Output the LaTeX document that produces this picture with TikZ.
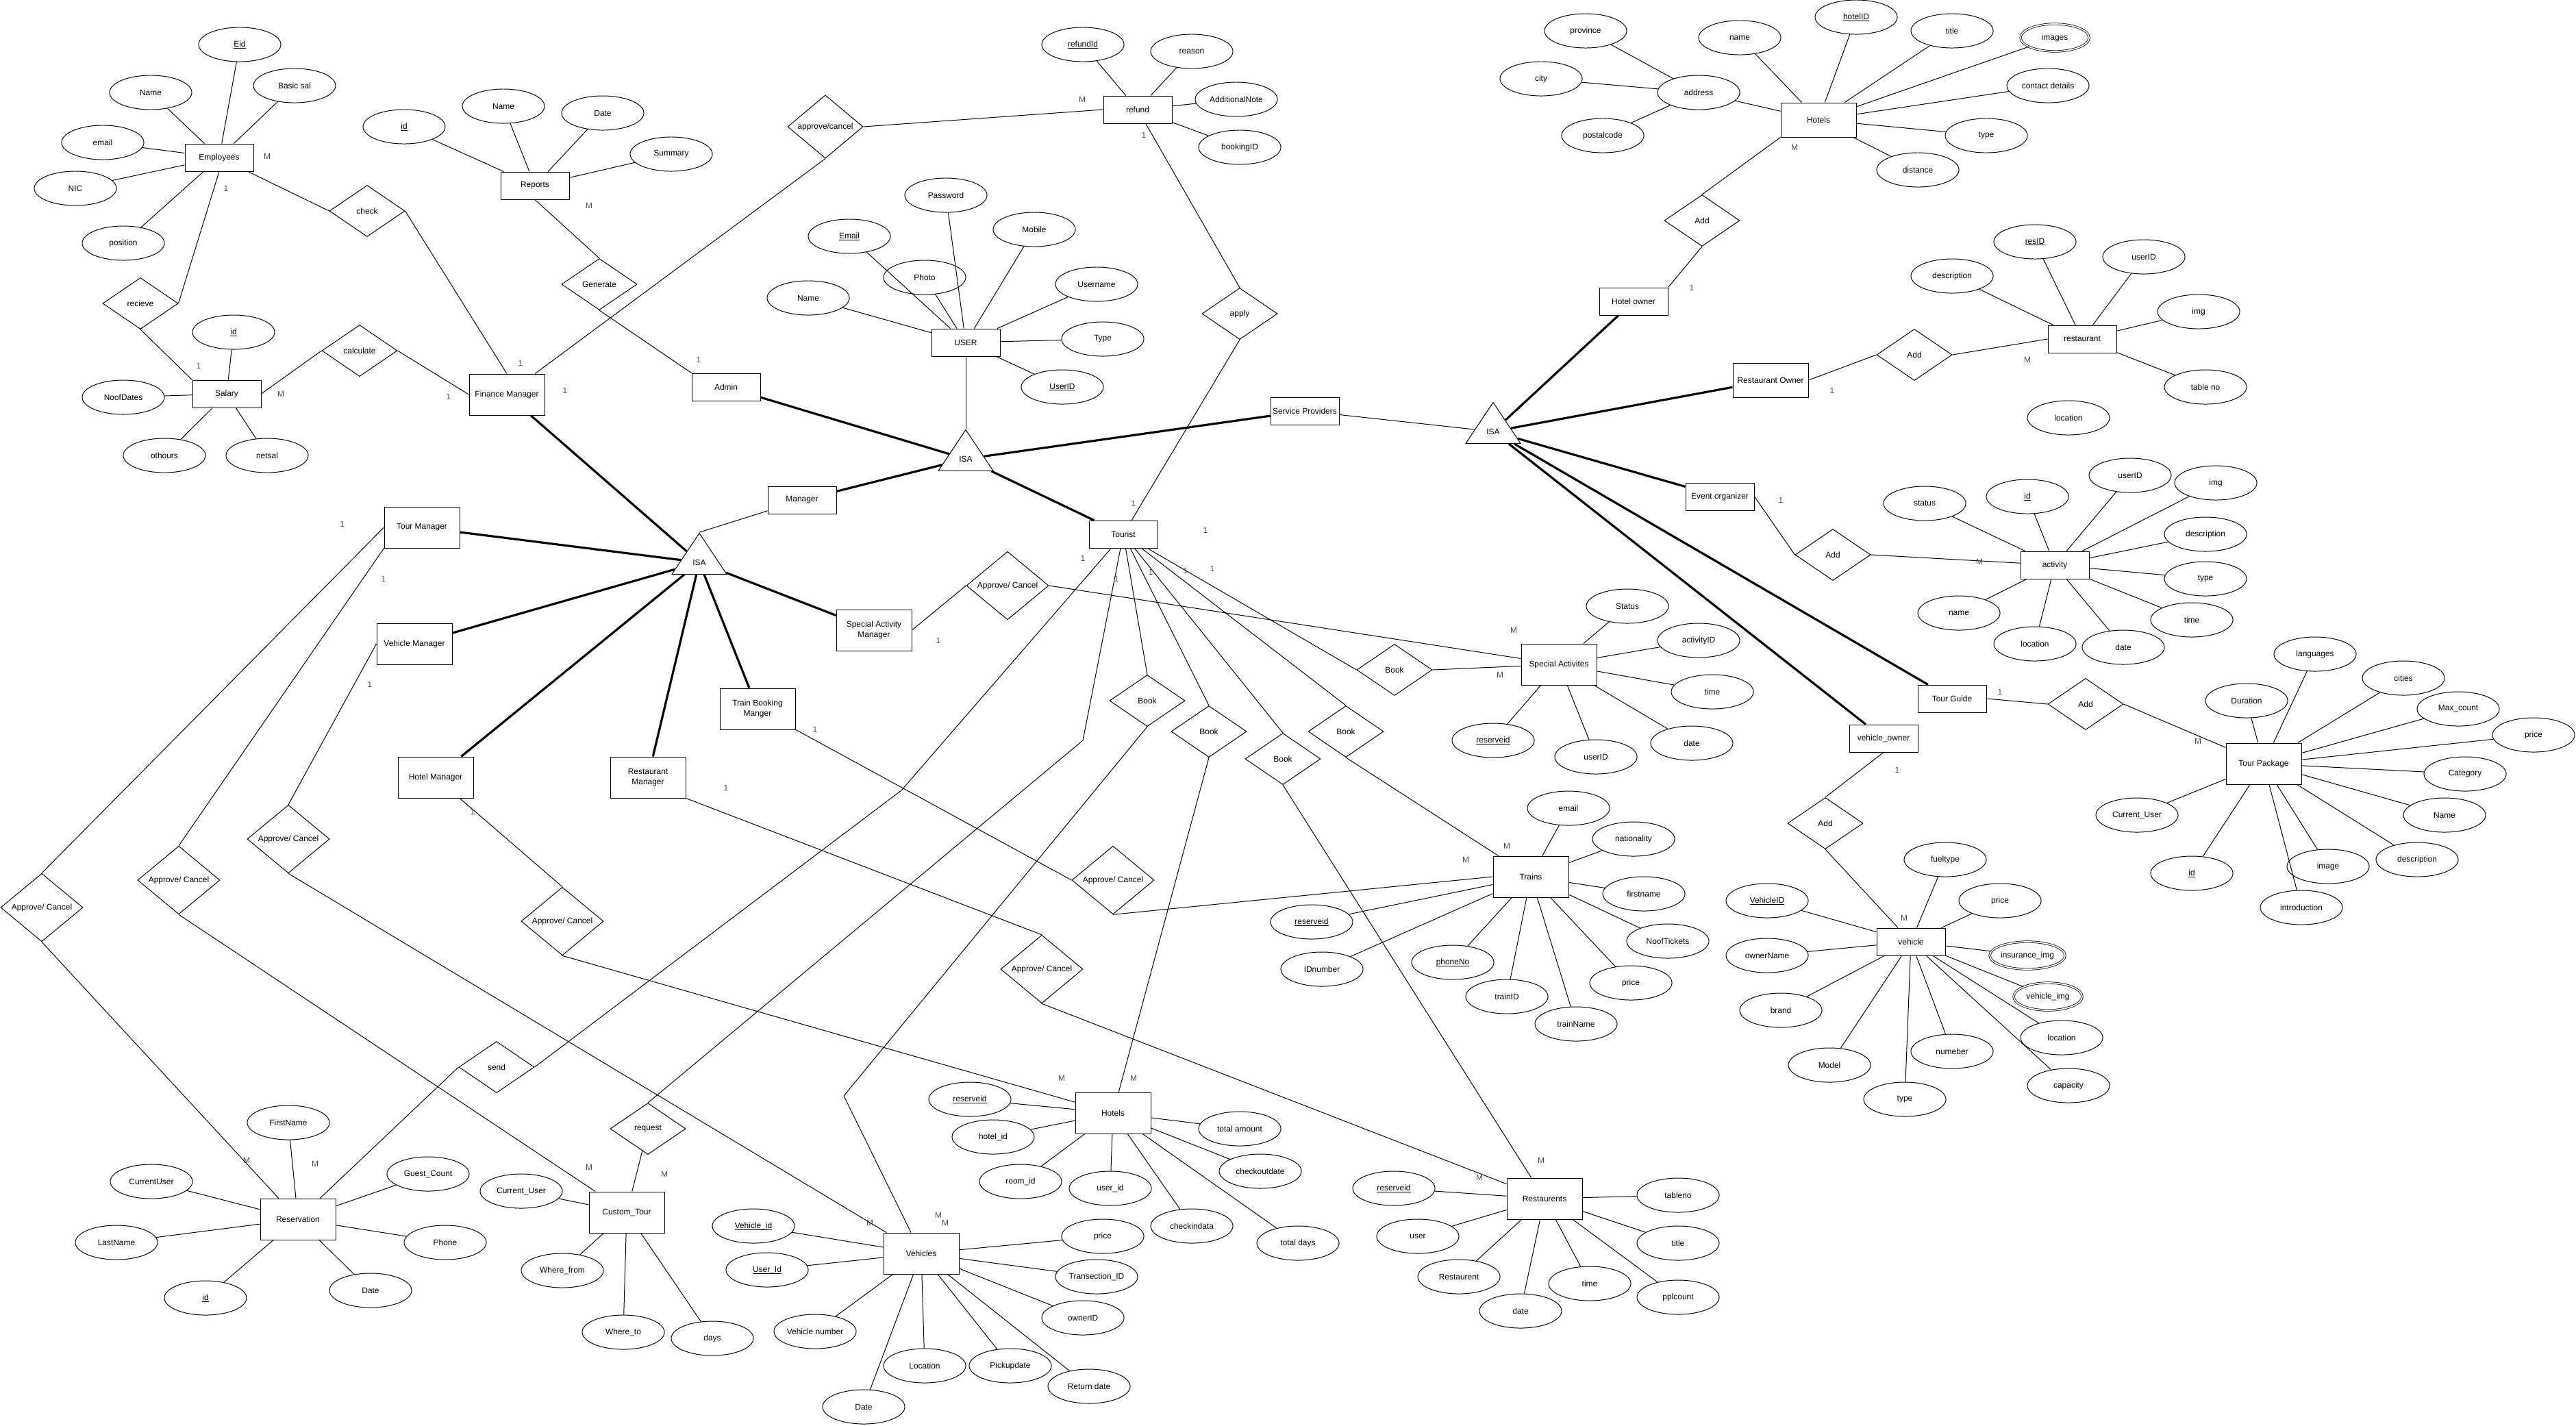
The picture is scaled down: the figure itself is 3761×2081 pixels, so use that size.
\documentclass[tikz,border=0pt]{standalone}
\usepackage{fontspec}
\setmainfont{Liberation Sans}
\usetikzlibrary{shapes.geometric}
\newcommand{\erfont}{\fontsize{3.4}{4.2}\selectfont}
\newcommand{\keyul}[1]{\setbox0=\hbox{#1}\rlap{\rule[-0.6pt]{\wd0}{0.2pt}}\box0}

\begin{document}
\begin{tikzpicture}[
    x=0.01cm, y=-0.01cm,
    entity/.style={rectangle, draw, line width=0.26pt, minimum width=1cm, minimum height=0.4cm,
                   inner sep=0pt, font=\erfont},
    bigentity/.style={entity, minimum width=1.1cm, minimum height=0.6cm, align=center},
    attr/.style={ellipse, draw, line width=0.28pt, minimum width=1.2cm, minimum height=0.5cm,
                 inner sep=0pt, font=\erfont},
    multiattr/.style={attr, double, line width=0.22pt, double distance=0.5pt, minimum width=1cm, minimum height=0.4cm},
    rel/.style={diamond, draw, line width=0.28pt, minimum width=1.1cm, minimum height=0.75cm,
                inner sep=0pt, font=\erfont},
    bigrel/.style={rel, minimum width=1.2cm, minimum height=0.9cm},
    isa/.style={isosceles triangle, shape border rotate=90, isosceles triangle stretches, draw,
                line width=0.28pt, minimum width=0.8cm, minimum height=0.6cm, inner sep=0pt, font=\erfont},
    link/.style={line width=0.28pt},
    strong/.style={line width=0.9pt},
    card/.style={font=\erfont, text=black!70}
]
    \useasboundingbox (0,0) rectangle (3761,2081);

    % Entities
    \node[entity] (employees) at (320,230) {Employees};
    \node[entity] (salary) at (331,575) {Salary};
    \node[entity] (reports) at (781,271) {Reports};
    \node[bigentity] (finmgr) at (740,576) {Finance Manager};
    \node[entity] (admin) at (1060,565) {Admin};
    \node[entity] (user) at (1410,500) {USER};
    \node[entity] (refund) at (1661,160) {refund};
    \node[entity] (provider) at (1905,600) {Service Providers};
    \node[entity] (manager) at (1171,730) {Manager};
    \node[entity] (tourist) at (1640,780) {Tourist};
    \node[bigentity] (tourmgr) at (616,770) {Tour Manager};
    \node[bigentity] (vehmgr) at (605,940) {Vehicle Manager};
    \node[bigentity] (hotelmgr) at (636,1135) {Hotel Manager};
    \node[bigentity] (restmgr) at (946,1135) {Restaurant\\Manager};
    \node[bigentity] (activmgr) at (1276,920) {Special Activity\\Manager};
    \node[bigentity] (trainmgr) at (1106,1035) {Train Booking\\Manger};
    \node[entity] (hotelowner) at (2385,440) {Hotel owner};
    \node[entity, minimum width=1.1cm, minimum height=0.5cm] (hotels) at (2655,175) {Hotels};
    \node[entity, minimum width=1.1cm, minimum height=0.5cm] (restowner) at (2585,555) {Restaurant Owner};
    \node[entity] (restaurant) at (3040,495) {restaurant};
    \node[entity] (organizer) at (2511,725) {Event organizer};
    \node[entity] (activity) at (3000,825) {activity};
    \node[bigentity] (specact) at (2276,970) {Special Activites};
    \node[entity] (guide) at (2850,1020) {Tour Guide};
    \node[bigentity] (package) at (3305,1115) {Tour Package};
    \node[entity] (vehowner) at (2750,1078) {vehicle\_owner};
    \node[entity] (vehicle) at (2790,1375) {vehicle};
    \node[bigentity] (trains) at (2235,1280) {Trains};
    \node[bigentity] (reservation) at (435,1780) {Reservation};
    \node[bigentity] (customtour) at (915,1770) {Custom\_Tour};
    \node[bigentity] (hotelbook) at (1625,1625) {Hotels};
    \node[bigentity] (vehicles) at (1345,1830) {Vehicles};
    \node[bigentity] (restbook) at (2255,1750) {Restaurents};

    % ISA
    \node[isa] (isauser) at (1410,670) {ISA};
    \node[isa] (isastaff) at (1021,821) {ISA};
    \node[isa] (isaprov) at (2180,630) {ISA};

    % Relationships
    \node[rel] (check) at (536,308) {check};
    \node[rel] (receive) at (205,443) {recieve};
    \node[rel] (calculate) at (525,512) {calculate};
    \node[rel] (generate) at (875,415) {Generate};
    \node[rel] (approverefund) at (1205,185) {approve/cancel};
    \node[rel] (apply) at (1810,458) {apply};
    \node[rel] (addhotel) at (2485,322) {Add};
    \node[rel] (addrest) at (2795,518) {Add};
    \node[rel] (addactivity) at (2676,810) {Add};
    \node[rel] (addpackage) at (3045,1028) {Add};
    \node[rel] (addvehicle) at (2665,1202) {Add};
    \node[bigrel] (apres) at (61,1325) {Approve/ Cancel};
    \node[bigrel] (apcustom) at (261,1285) {Approve/ Cancel};
    \node[bigrel] (apveh) at (421,1225) {Approve/ Cancel};
    \node[bigrel] (aphotel) at (821,1345) {Approve/ Cancel};
    \node[bigrel] (apactivity) at (1471,855) {Approve/ Cancel};
    \node[bigrel] (aptrain) at (1625,1285) {Approve/ Cancel};
    \node[bigrel] (aprest) at (1521,1415) {Approve/ Cancel};
    \node[rel] (bookveh) at (1675,1023) {Book};
    \node[rel] (bookhotel) at (1765,1068) {Book};
    \node[rel] (bookrest) at (1873,1108) {Book};
    \node[rel] (bookactivity) at (2036,978) {Book};
    \node[rel] (booktrain) at (1965,1068) {Book};
    \node[rel] (send) at (725,1558) {send};
    \node[rel] (request) at (946,1648) {request};

    % Attributes
    \node[attr] (eid) at (350,65) {\keyul{Eid}};
    \node[attr] (ename) at (220,135) {Name};
    \node[attr] (basicsal) at (430,125) {Basic sal};
    \node[attr] (eemail) at (150,208) {email};
    \node[attr] (enic) at (110,275) {NIC};
    \node[attr] (eposition) at (180,355) {position};
    \node[attr] (salid) at (341,485) {\keyul{id}};
    \node[attr] (noofdates) at (180,580) {NoofDates};
    \node[attr] (othours) at (240,665) {othours};
    \node[attr] (netsal) at (390,665) {netsal};
    \node[attr] (repid) at (590,185) {\keyul{id}};
    \node[attr] (repname) at (735,155) {Name};
    \node[attr] (repdate) at (880,165) {Date};
    \node[attr] (summary) at (980,225) {Summary};
    \node[attr] (refundid) at (1581,65) {\keyul{refundId}};
    \node[attr] (reason) at (1740,75) {reason};
    \node[attr] (addnote) at (1805,145) {AdditionalNote};
    \node[attr] (bookingid) at (1810,215) {bookingID};
    \node[attr] (password) at (1381,285) {Password};
    \node[attr] (uemail) at (1240,345) {\keyul{Email}};
    \node[attr] (mobile) at (1510,335) {Mobile};
    \node[attr] (photo) at (1350,405) {Photo};
    \node[attr] (uname) at (1180,435) {Name};
    \node[attr] (username) at (1601,415) {Username};
    \node[attr] (utype) at (1610,495) {Type};
    \node[attr] (userid) at (1551,565) {\keyul{UserID}};
    \node[attr] (address) at (2480,135) {address};
    \node[attr] (province) at (2315,45) {province};
    \node[attr] (city) at (2250,115) {city};
    \node[attr] (postalcode) at (2340,198) {postalcode};
    \node[attr] (hname) at (2540,55) {name};
    \node[attr] (hotelid) at (2710,25) {\keyul{hotelID}};
    \node[attr] (htitle) at (2850,45) {title};
    \node[multiattr] (himages) at (3000,55) {images};
    \node[attr] (hcontact) at (2990,125) {contact details};
    \node[attr] (htype) at (2900,198) {type};
    \node[attr] (hdistance) at (2800,248) {distance};
    \node[attr] (rdesc) at (2850,403) {description};
    \node[attr] (resid) at (2971,353) {\keyul{resID}};
    \node[attr] (ruserid) at (3130,375) {userID};
    \node[attr] (rimg) at (3210,455) {img};
    \node[attr] (rtable) at (3220,565) {table no};
    \node[attr] (rlocation) at (3020,610) {location};
    \node[attr] (astatus) at (2810,735) {status};
    \node[attr] (aid) at (2960,725) {\keyul{id}};
    \node[attr] (auserid) at (3110,694) {userID};
    \node[attr] (aimg) at (3235,705) {img};
    \node[attr] (adesc) at (3220,780) {description};
    \node[attr] (atype) at (3220,845) {type};
    \node[attr] (atime) at (3200,905) {time};
    \node[attr] (adate) at (3100,945) {date};
    \node[attr] (aloc) at (2971,940) {location};
    \node[attr] (aname) at (2860,895) {name};
    \node[attr] (sstatus) at (2376,885) {Status};
    \node[attr] (sactid) at (2480,935) {activityID};
    \node[attr] (stime) at (2500,1010) {time};
    \node[attr] (sdate) at (2470,1085) {date};
    \node[attr] (suserid) at (2330,1105) {userID};
    \node[attr] (sreserve) at (2180,1081) {\keyul{reserveid}};
    \node[attr] (languages) at (3380,955) {languages};
    \node[attr] (cities) at (3509,990) {cities};
    \node[attr] (duration) at (3280,1023) {Duration};
    \node[attr] (maxcount) at (3589,1035) {Max\_count};
    \node[attr] (pprice) at (3699,1073) {price};
    \node[attr] (category) at (3599,1130) {Category};
    \node[attr] (pname) at (3569,1190) {Name};
    \node[attr] (pdesc) at (3529,1255) {description};
    \node[attr] (pimage) at (3399,1265) {image};
    \node[attr] (intro) at (3360,1325) {introduction};
    \node[attr] (pid) at (3200,1275) {\keyul{id}};
    \node[attr] (pcurrent) at (3120,1190) {Current\_User};
    \node[attr] (temail) at (2290,1180) {email};
    \node[attr] (nationality) at (2385,1225) {nationality};
    \node[attr] (tfirst) at (2400,1305) {firstname};
    \node[attr] (tickets) at (2435,1374) {NoofTickets};
    \node[attr] (tprice) at (2381,1435) {price};
    \node[attr] (trainname) at (2301,1495) {trainName};
    \node[attr] (trainid) at (2200,1455) {trainID};
    \node[attr] (phoneno) at (2121,1405) {\keyul{phoneNo}};
    \node[attr] (idnumber) at (1930,1415) {IDnumber};
    \node[attr] (treserve) at (1915,1346) {\keyul{reserveid}};
    \node[attr] (fueltype) at (2840,1255) {fueltype};
    \node[attr] (vprice) at (2920,1315) {price};
    \node[attr] (vehicleid) at (2580,1315) {\keyul{VehicleID}};
    \node[attr] (ownername) at (2580,1395) {ownerName};
    \node[attr] (brand) at (2600,1475) {brand};
    \node[attr] (model) at (2671,1555) {Model};
    \node[attr] (vtype) at (2781,1605) {type};
    \node[attr] (numeber) at (2850,1535) {numeber};
    \node[attr] (capacity) at (3020,1585) {capacity};
    \node[attr] (vlocation) at (3010,1515) {location};
    \node[multiattr] (vehimg) at (2990,1455) {vehicle\_img};
    \node[multiattr] (insimg) at (2960,1395) {insurance\_img};
    \node[attr] (rfirst) at (421,1639) {FirstName};
    \node[attr] (rcurrent) at (221,1725) {CurrentUser};
    \node[attr] (guests) at (625,1714) {Guest\_Count};
    \node[attr] (lastname) at (170,1814) {LastName};
    \node[attr] (phone) at (650,1814) {Phone};
    \node[attr] (resvid) at (300,1895) {\keyul{id}};
    \node[attr] (resvdate) at (541,1884) {Date};
    \node[attr] (ccurrent) at (761,1739) {Current\_User};
    \node[attr] (wherefrom) at (821,1855) {Where\_from};
    \node[attr] (whereto) at (910,1945) {Where\_to};
    \node[attr] (days) at (1040,1954) {days};
    \node[attr] (hreserve) at (1416,1605) {\keyul{reserveid}};
    \node[attr] (hbookid) at (1450,1660) {hotel\_id};
    \node[attr] (roomid) at (1490,1725) {room\_id};
    \node[attr] (huserid) at (1621,1735) {user\_id};
    \node[attr] (checkin) at (1740,1790) {checkindata};
    \node[attr] (totalamount) at (1810,1648) {total amount};
    \node[attr] (checkout) at (1840,1710) {checkoutdate};
    \node[attr] (totaldays) at (1895,1815) {total days};
    \node[attr] (vid) at (1100,1790) {\keyul{Vehicle\_id}};
    \node[attr] (vuserid) at (1120,1854) {\keyul{User\_Id}};
    \node[attr] (vnumber) at (1190,1944) {Vehicle number};
    \node[attr] (vdate) at (1261,2054) {Date};
    \node[attr] (vloc) at (1350,1994) {Location};
    \node[attr] (pickup) at (1475,1994) {Pickupdate};
    \node[attr] (returndate) at (1590,2024) {Return date};
    \node[attr] (ownerid) at (1581,1924) {ownerID};
    \node[attr] (transid) at (1601,1864) {Transection\_ID};
    \node[attr] (vbprice) at (1610,1805) {price};
    \node[attr] (rsreserve) at (2035,1735) {\keyul{reserveid}};
    \node[attr] (rsuser) at (2070,1805) {user};
    \node[attr] (restaurent) at (2130,1864) {Restaurent};
    \node[attr] (rsdate) at (2220,1914) {date};
    \node[attr] (rstime) at (2321,1874) {time};
    \node[attr] (pplcount) at (2450,1894) {pplcount};
    \node[attr] (rstitle) at (2450,1815) {title};
    \node[attr] (tableno) at (2450,1745) {tableno};

    % Bends
    \coordinate (sendbend) at (1316,1154);
    \coordinate (requestbend) at (1581,1081);
    \coordinate (vehbend) at (1232,1600);

    % Attribute links
    \draw[link] (eid) -- (employees) (ename) -- (employees) (basicsal) -- (employees)
                (eemail) -- (employees) (enic) -- (employees) (eposition) -- (employees);
    \draw[link] (salid) -- (salary) (noofdates) -- (salary) (othours) -- (salary) (netsal) -- (salary);
    \draw[link] (repid) -- (reports) (repname) -- (reports) (repdate) -- (reports) (summary) -- (reports);
    \draw[link] (refundid) -- (refund) (reason) -- (refund) (addnote) -- (refund) (bookingid) -- (refund);
    \draw[link] (password) -- (user) (uemail) -- (user) (mobile) -- (user) (photo) -- (user)
                (uname) -- (user) (username) -- (user) (utype) -- (user) (userid) -- (user);
    \draw[link] (province) -- (address) (city) -- (address) (postalcode) -- (address);
    \draw[link] (address) -- (hotels) (hname) -- (hotels) (hotelid) -- (hotels) (htitle) -- (hotels)
                (himages) -- (hotels) (hcontact) -- (hotels) (htype) -- (hotels) (hdistance) -- (hotels);
    \draw[link] (rdesc) -- (restaurant) (resid) -- (restaurant) (ruserid) -- (restaurant)
                (rimg) -- (restaurant) (rtable) -- (restaurant);
    \draw[link] (astatus) -- (activity) (aid) -- (activity) (auserid) -- (activity) (aimg) -- (activity)
                (adesc) -- (activity) (atype) -- (activity) (atime) -- (activity) (adate) -- (activity)
                (aloc) -- (activity) (aname) -- (activity);
    \draw[link] (sstatus) -- (specact) (sactid) -- (specact) (stime) -- (specact) (sdate) -- (specact)
                (suserid) -- (specact) (sreserve) -- (specact);
    \draw[link] (languages) -- (package) (cities) -- (package) (duration) -- (package)
                (maxcount) -- (package) (pprice) -- (package) (category) -- (package) (pname) -- (package)
                (pdesc) -- (package) (pimage) -- (package) (intro) -- (package) (pid) -- (package)
                (pcurrent) -- (package);
    \draw[link] (temail) -- (trains) (nationality) -- (trains) (tfirst) -- (trains) (tickets) -- (trains)
                (tprice) -- (trains) (trainname) -- (trains) (trainid) -- (trains) (phoneno) -- (trains)
                (idnumber) -- (trains) (treserve) -- (trains);
    \draw[link] (fueltype) -- (vehicle) (vprice) -- (vehicle) (vehicleid) -- (vehicle)
                (ownername) -- (vehicle) (brand) -- (vehicle) (model) -- (vehicle) (vtype) -- (vehicle)
                (numeber) -- (vehicle) (capacity) -- (vehicle) (vlocation) -- (vehicle)
                (vehimg) -- (vehicle) (insimg) -- (vehicle);
    \draw[link] (rfirst) -- (reservation) (rcurrent) -- (reservation) (guests) -- (reservation)
                (lastname) -- (reservation) (phone) -- (reservation) (resvid) -- (reservation)
                (resvdate) -- (reservation);
    \draw[link] (ccurrent) -- (customtour) (wherefrom) -- (customtour) (whereto) -- (customtour)
                (days) -- (customtour);
    \draw[link] (hreserve) -- (hotelbook) (hbookid) -- (hotelbook) (roomid) -- (hotelbook)
                (huserid) -- (hotelbook) (checkin) -- (hotelbook) (totalamount) -- (hotelbook)
                (checkout) -- (hotelbook) (totaldays) -- (hotelbook);
    \draw[link] (vid) -- (vehicles) (vuserid) -- (vehicles) (vnumber) -- (vehicles) (vdate) -- (vehicles)
                (vloc) -- (vehicles) (pickup) -- (vehicles) (returndate) -- (vehicles)
                (ownerid) -- (vehicles) (transid) -- (vehicles) (vbprice) -- (vehicles);
    \draw[link] (rsreserve) -- (restbook) (rsuser) -- (restbook) (restaurent) -- (restbook)
                (rsdate) -- (restbook) (rstime) -- (restbook) (pplcount) -- (restbook)
                (rstitle) -- (restbook) (tableno) -- (restbook);

    % Relationship links
    \draw[link] (employees) -- (check.west);
    \draw[link] (check.east) -- (finmgr.north);
    \draw[link] (employees.south) -- (receive.east);
    \draw[link] (receive.south) -- (salary.north west);
    \draw[link] (salary.east) -- (calculate.west);
    \draw[link] (calculate.east) -- (finmgr.west);
    \draw[link] (reports.south) -- (generate.north);
    \draw[link] (generate.south) -- (admin.north west);
    \draw[link] (finmgr) -- (approverefund.south);
    \draw[link] (approverefund.east) -- (refund.west);
    \draw[link] (refund) -- (apply.north);
    \draw[link] (apply.south) -- (tourist);
    \draw[link] (hotelowner.north east) -- (addhotel.south);
    \draw[link] (addhotel.north) -- (hotels.south west);
    \draw[link] (restowner.east) -- (addrest.west);
    \draw[link] (addrest.east) -- (restaurant.west);
    \draw[link] (organizer.east) -- (addactivity.west);
    \draw[link] (addactivity.east) -- (activity);
    \draw[link] (guide.east) -- (addpackage.west);
    \draw[link] (addpackage.east) -- (package);
    \draw[link] (vehowner.south) -- (addvehicle.north);
    \draw[link] (addvehicle.south) -- (vehicle);
    \draw[link] (tourmgr.west) -- (apres.north);
    \draw[link] (apres.south) -- (reservation);
    \draw[link] (tourmgr.south west) -- (apcustom.north);
    \draw[link] (apcustom.south) -- (customtour);
    \draw[link] (vehmgr.west) -- (apveh.north);
    \draw[link] (apveh.south) -- (vehicles);
    \draw[link] (hotelmgr) -- (aphotel.north);
    \draw[link] (aphotel.south) -- (hotelbook);
    \draw[link] (activmgr.east) -- (apactivity.west);
    \draw[link] (apactivity.east) -- (specact);
    \draw[link] (trainmgr) -- (aptrain.west);
    \draw[link] (aptrain.south) -- (trains.west);
    \draw[link] (restmgr.south east) -- (aprest.north);
    \draw[link] (aprest.south) -- (restbook);
    \draw[link] (tourist) -- (sendbend) -- (send.east);
    \draw[link] (send.west) -- (reservation);
    \draw[link] (request.north) -- (requestbend) -- (tourist);
    \draw[link] (request) -- (customtour);
    \draw[link] (tourist) -- (bookveh.north);
    \draw[link] (bookveh.south) -- (vehbend) -- (vehicles);
    \draw[link] (tourist) -- (bookhotel.north);
    \draw[link] (bookhotel.south) -- (hotelbook);
    \draw[link] (tourist) -- (bookrest.north);
    \draw[link] (bookrest.south) -- (restbook);
    \draw[link] (tourist) -- (bookactivity.west);
    \draw[link] (bookactivity.east) -- (specact);
    \draw[link] (tourist) -- (booktrain.north);
    \draw[link] (booktrain.south) -- (trains);

    % ISA links
    \draw[link] (user) -- (isauser.apex);
    \draw[strong] (admin) -- (isauser);
    \draw[strong] (isauser) -- (provider);
    \draw[strong] (isauser) -- (manager);
    \draw[strong] (isauser) -- (tourist);
    \draw[link] (manager) -- (isastaff.apex);
    \draw[strong] (isastaff) -- (finmgr);
    \draw[strong] (isastaff) -- (tourmgr);
    \draw[strong] (isastaff) -- (vehmgr);
    \draw[strong] (isastaff) -- (hotelmgr);
    \draw[strong] (isastaff) -- (restmgr);
    \draw[strong] (isastaff) -- (trainmgr);
    \draw[strong] (isastaff) -- (activmgr);
    \draw[link] (provider) -- (isaprov);
    \draw[strong] (isaprov) -- (hotelowner);
    \draw[strong] (isaprov) -- (restowner);
    \draw[strong] (isaprov) -- (organizer);
    \draw[strong] (isaprov) -- (guide);
    \draw[strong] (isaprov) -- (vehowner);

    % Labels
    \node[card] (k1) at (390,228) {M};
    \node[card] (k2) at (330,275) {1};
    \node[card] (k3) at (290,534) {1};
    \node[card] (k4) at (410,575) {M};
    \node[card] (k5) at (655,579) {1};
    \node[card] (k6) at (760,530) {1};
    \node[card] (k7) at (825,570) {1};
    \node[card] (k8) at (860,300) {M};
    \node[card] (k9) at (1020,525) {1};
    \node[card] (k10) at (1580,145) {M};
    \node[card] (k11) at (1670,197) {1};
    \node[card] (k12) at (1655,735) {1};
    \node[card] (k13) at (2620,215) {M};
    \node[card] (k14) at (2470,420) {1};
    \node[card] (k15) at (2675,570) {1};
    \node[card] (k16) at (2960,525) {M};
    \node[card] (k17) at (2600,730) {1};
    \node[card] (k18) at (2890,820) {M};
    \node[card] (k19) at (2920,1010) {1};
    \node[card] (k20) at (3209,1082) {M};
    \node[card] (k21) at (2770,1124) {1};
    \node[card] (k22) at (2780,1340) {M};
    \node[card] (k23) at (2210,920) {M};
    \node[card] (k24) at (2190,985) {M};
    \node[card] (k25) at (2200,1235) {M};
    \node[card] (k26) at (2140,1255) {M};
    \node[card] (k27) at (1370,935) {1};
    \node[card] (k28) at (1190,1065) {1};
    \node[card] (k29) at (1060,1150) {1};
    \node[card] (k30) at (690,1185) {1};
    \node[card] (k31) at (540,999) {1};
    \node[card] (k32) at (500,765) {1};
    \node[card] (k33) at (560,845) {1};
    \node[card] (k34) at (360,1694) {M};
    \node[card] (k35) at (460,1699) {M};
    \node[card] (k36) at (860,1704) {M};
    \node[card] (k37) at (970,1714) {M};
    \node[card] (k38) at (1550,1574) {M};
    \node[card] (k39) at (1655,1574) {M};
    \node[card] (k40) at (1270,1785) {M};
    \node[card] (k41) at (1370,1774) {M};
    \node[card] (k42) at (1380,1785) {M};
    \node[card] (k43) at (2250,1694) {M};
    \node[card] (k44) at (2160,1719) {M};
    \node[card] (k45) at (1760,774) {1};
    \node[card] (k46) at (1581,815) {1};
    \node[card] (k47) at (1770,830) {1};
    \node[card] (k48) at (1731,833) {1};
    \node[card] (k49) at (1680,835) {1};
    \node[card] (k50) at (1630,845) {1};
\end{tikzpicture}
\end{document}
